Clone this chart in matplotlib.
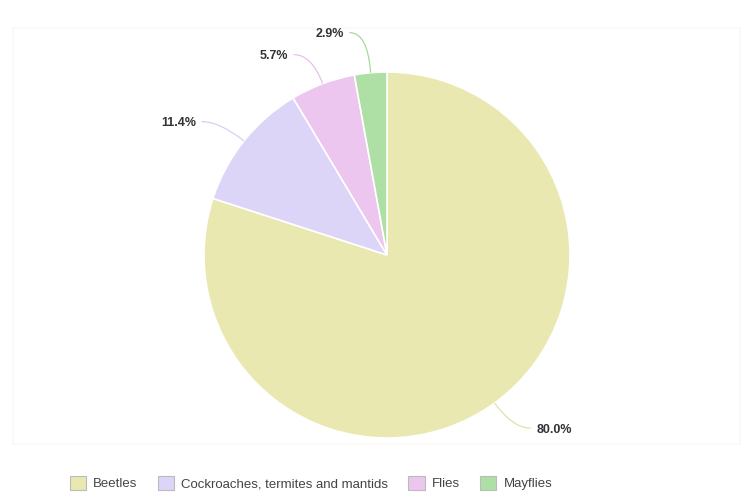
import numpy as np
import matplotlib
matplotlib.use("Agg")
import matplotlib.pyplot as plt
from matplotlib.path import Path
from matplotlib.patches import PathPatch, Rectangle

# data
categories = ["Beetles", "Cockroaches, termites and mantids", "Flies", "Mayflies"]
counts = [28, 4, 2, 1]
colors = ["#e9e8b0", "#ddd5f8", "#ecc6ee", "#aedfa4"]
line_colors = ["#e2e1a8", "#d8cff4", "#e8c0ea", "#a6d89c"]

total = sum(counts)
pcts = [100.0 * v / total for v in counts]

fig = plt.figure(figsize=(7.42, 5.0), dpi=100)
ax = fig.add_axes([0, 0, 1, 1])

# faint plot-area frame
ax.add_patch(Rectangle(((13 - 387) / 183, (255 - 444) / 183), 727 / 183, 416 / 183,
                       fill=False, edgecolor="#fbf8f3", lw=1.2))

wedges, _ = ax.pie(counts, colors=colors, startangle=90, counterclock=False,
                   radius=1.0, center=(0, 0), frame=True,
                   wedgeprops=dict(edgecolor="white", linewidth=1.2))
# 183 px per unit in both directions, centre at (387, 255) px
ax.set_xlim(-387 / 183, 355 / 183)
ax.set_ylim(-245 / 183, 255 / 183)
ax.set_aspect("auto")
ax.axis("off")

# label placement (outside with curved connectors)
d = 0.17
info = []
for w, p, lc in zip(wedges, pcts, line_colors):
    mid = np.deg2rad((w.theta1 + w.theta2) / 2)
    ex, ey = np.cos(mid), np.sin(mid)
    bx, by = (1 + d) * ex, (1 + d) * ey
    info.append([mid, ex, ey, bx, by, p, lc])

# push overlapping labels on the left side upward
left = sorted([i for i in info if i[3] < 0], key=lambda t: t[4])
for a, b in zip(left[:-1], left[1:]):
    if b[4] - a[4] < 0.12:
        b[4] = a[4] + 0.12

for mid, ex, ey, bx, by, p, lc in info:
    side = 1 if bx >= 0 else -1
    endx = bx + side * 0.1
    path = Path([(ex, ey), (bx, by), (endx, by)],
                [Path.MOVETO, Path.CURVE3, Path.CURVE3])
    ax.add_patch(PathPatch(path, fill=False, edgecolor=lc, lw=0.9))
    ax.text(endx + side * 0.03, by - 0.01, f"{p:.1f}%", ha="left" if side > 0 else "right",
            va="center", fontsize=9, fontweight="bold", color="#333333",
            family=["Liberation Sans", "DejaVu Sans"])

leg = fig.legend(wedges, categories, loc="center", bbox_to_anchor=(0.419, 0.034),
                 ncol=4, frameon=False, handlelength=1.25, handleheight=1.25,
                 columnspacing=1.5, handletextpad=0.55,
                 prop=dict(family=["Liberation Sans"], size=9.5))
for h in leg.legend_handles:
    h.set_edgecolor("#bbbbbb")
    h.set_linewidth(0.8)
for t in leg.get_texts():
    t.set_color("#444444")

fig.savefig("out.png", dpi=100)
